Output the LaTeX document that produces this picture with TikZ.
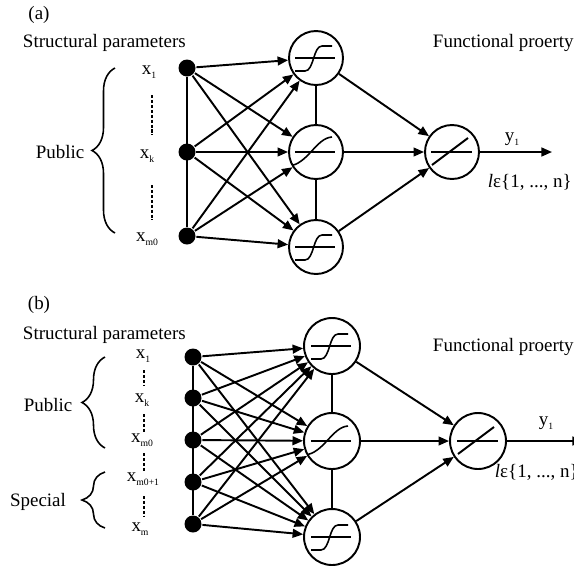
\documentclass[tikz,border=0pt]{standalone}
\usepackage{fontspec}
\setmainfont{Liberation Serif}
\usepackage{tikz}
\usetikzlibrary{arrows.meta,decorations.pathreplacing}

\newcommand\xsub[1]{\raisebox{-0.45ex}{\fontsize{5.5}{6}\selectfont #1}}

\tikzset{
  lbl/.style={inner sep=0pt},
  unit/.style={circle,fill,inner sep=0pt,minimum size=0.34cm},
  neuron/.style={circle,draw,inner sep=0pt,minimum size=1.08cm},
  sig/.style={neuron,path picture={
      \draw[line width=1.4pt,shift={(path picture bounding box.center)}] (-21,0) -- (19,0);
      \draw[line width=0.9pt,shift={(path picture bounding box.center)}] (-21,13) -- (-11,13)
        .. controls (-2,13) and (-3,-12) .. (6,-12) -- (16,-12);}},
  sigmid/.style={neuron,path picture={
      \draw[line width=1.4pt,shift={(path picture bounding box.center)}] (-21,0) -- (19,0);
      \draw[line width=0.9pt,shift={(path picture bounding box.center)}] (-27,14)
        .. controls (-8,12) and (0,-14) .. (16,-15);}},
  lin/.style={neuron,path picture={
      \draw[line width=1.4pt,shift={(path picture bounding box.center)}] (-21,0) -- (20,0);
      \draw[line width=1.1pt,shift={(path picture bounding box.center)}] (-20,13) -- (16,-14);}},
  conn/.style={-{Triangle[length=6pt,width=5pt]}},
  dotline/.style={line width=1.5pt,dash pattern=on 1.8pt off 1pt},
  brc/.style={decorate,decoration={brace,amplitude=0.46cm}},
}

\begin{document}
\begin{tikzpicture}[x=0.02cm,y=-0.02cm,line width=1.1pt,
    every node/.style={font=\fontsize{10.8}{13}\selectfont}]
\useasboundingbox (0,0) rectangle (574,569);

\node[lbl] (alab) at (39,15) {(a)};
\node[lbl,anchor=west] (astruct) at (22,43) {Structural parameters};
\node[lbl,anchor=west] (afunc) at (432,43) {Functional proerty};
\foreach \n/\y in {1/68,2/152,3/236} \node[unit] (ain\n) at (187,\y) {};
\node[lbl] (ax1) at (149,72) {x\xsub{1}};
\node[lbl] (axk) at (147,156) {x\xsub{k}};
\node[lbl] (axm) at (147,239) {x\xsub{m0}};
\draw[dotline] (152,95) -- (152,135) (152,185) -- (152,220);
\draw[brc,line width=0.9pt] (115,233) -- (115,68);
\node[lbl] (apub) at (60,152) {Public};
\node[sig] (ah1) at (316,58) {};
\node[sigmid] (ah2) at (316,152) {};
\node[sig] (ah3) at (316,247) {};
\node[lin] (aout) at (452,152) {};
\coordinate (aend) at (552,152);
\node[lbl] (ay) at (512,139) {y\xsub{1}};
\node[lbl,anchor=west] (aset) at (487,182) {\textit{l}ε\{1, ..., n\}};
\draw (ain1) -- (ain3);
\draw (ah1) -- (ah2) (ah2) -- (ah3);
\foreach \i in {1,2,3} \foreach \j in {1,2,3} \draw[conn] (ain\i) -- (ah\j);
\foreach \j in {1,2,3} \draw[conn] (ah\j) -- (aout);
\draw[conn] (aout) -- (aend);

\begin{scope}[neuron/.append style={minimum size=1.12cm}]
\node[lbl] (blab) at (39,305) {(b)};
\node[lbl,anchor=west] (bstruct) at (22,335) {Structural parameters};
\node[lbl,anchor=west] (bfunc) at (432,347) {Functional proerty};
\foreach \n/\y in {1/357,2/398,3/440,4/482,5/524} \node[unit] (bin\n) at (193,\y) {};
\node[lbl] (bx1) at (143,356) {x\xsub{1}};
\node[lbl] (bxk) at (142,400) {x\xsub{k}};
\node[lbl] (bxm) at (142,440) {x\xsub{m0}};
\node[lbl] (bxs) at (143,479) {x\xsub{m0+1}};
\node[lbl] (bxe) at (140,529) {x\xsub{m}};
\draw[dotline] (144,370) -- (144,386) (144,414) -- (144,432)
  (144,453) -- (144,471) (144,496) -- (144,516);
\draw[brc,line width=0.9pt] (105,448) -- (105,357);
\draw[brc,line width=0.9pt] (105,528) -- (105,472);
\node[lbl] (bpub) at (48,405) {Public};
\node[lbl] (bspec) at (38,502) {Special};
\node[sig] (bh1) at (332,346) {};
\node[sigmid] (bh2) at (332,441) {};
\node[sig] (bh3) at (332,537) {};
\node[lin] (bout) at (478,441) {};
\coordinate (bend) at (583,441);
\node[lbl] (by) at (546,423) {y\xsub{1}};
\node[lbl,anchor=west] (bset) at (494,472) {\textit{l}ε\{1, ..., n\}};
\draw (bin1) -- (bin5);
\draw (bh1) -- (bh2) (bh2) -- (bh3);
\foreach \i in {1,...,5} \foreach \j in {1,2,3} \draw[conn] (bin\i) -- (bh\j);
\foreach \j in {1,2,3} \draw[conn] (bh\j) -- (bout);
\draw[conn] (bout) -- (bend);
\end{scope}
\end{tikzpicture}
\end{document}
